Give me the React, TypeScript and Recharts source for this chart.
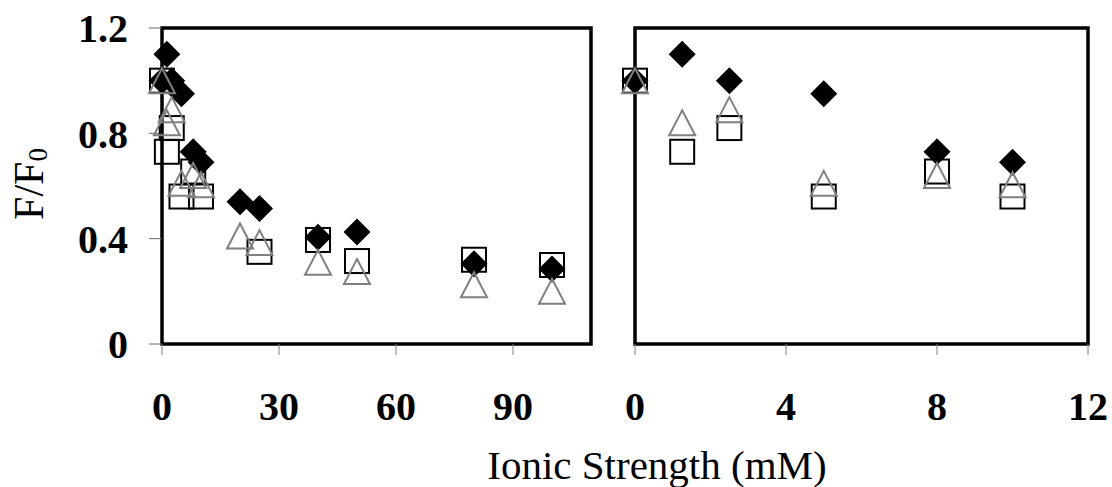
import React from 'react';
import { ScatterChart, Scatter, XAxis, YAxis, ReferenceArea } from 'recharts';

// ionic strength (mM)
const ionic = [0, 1.25, 2.5, 5, 8, 10, 20, 25, 40, 50, 80, 100];
// F/F0 for the three series (null = no point)
const diamonds = [1.0, 1.1, 1.0, 0.95, 0.73, 0.69, 0.54, 0.515, 0.405, 0.425, 0.305, 0.285];
const squares = [1.0, 0.73, 0.82, 0.56, 0.655, 0.56, null, 0.35, 0.395, 0.315, 0.32, 0.3];
const triangles = [1.0, 0.84, 0.89, 0.61, 0.64, 0.605, 0.41, 0.385, 0.31, 0.275, 0.225, 0.2];

const leftTicks = [0, 30, 60, 90];
const rightTicks = [0, 4, 8, 12];
const yTicks = [0, 0.4, 0.8, 1.2];

const toPoints = (vals: (number | null)[], maxX: number) =>
  ionic
    .map((x, i) => ({ x, y: vals[i] }))
    .filter((p) => p.y !== null && p.x <= maxX);

const Diamond = (props: any) => {
  const { cx, cy } = props;
  const r = 13.5;
  return <polygon points={`${cx},${cy - r} ${cx + r},${cy} ${cx},${cy + r} ${cx - r},${cy}`} fill="#000" />;
};

const Square = (props: any) => {
  const { cx, cy } = props;
  return <rect x={cx - 12} y={cy - 12} width={24} height={24} fill="none" stroke="#000" strokeWidth={2} />;
};

const Triangle = (props: any) => {
  const { cx, cy } = props;
  return (
    <polygon
      points={`${cx},${cy - 12.5} ${cx + 13},${cy + 12.5} ${cx - 13},${cy + 12.5}`}
      fill="none"
      stroke="#808080"
      strokeWidth={2}
    />
  );
};

const tickStyle = { fontFamily: 'Liberation Serif', fontSize: 40, fontWeight: 'bold', fill: '#000' };

const Panel = ({ maxX, ticks, showY, width, margin }: any) => (
  <ScatterChart width={width} height={487} margin={margin}>
    <XAxis
      type="number"
      dataKey="x"
      domain={[0, maxX]}
      ticks={ticks}
      axisLine={false}
      tickSize={11}
      tickMargin={37}
      tickLine={{ stroke: '#808080' }}
      tick={tickStyle}
      height={143}
      interval={0}
    />
    <YAxis
      type="number"
      dataKey="y"
      domain={[0, 1.2]}
      ticks={yTicks}
      hide={!showY}
      width={162}
      axisLine={false}
      tickSize={13}
      tickMargin={21}
      tickLine={{ stroke: '#666' }}
      tick={tickStyle}
      interval={0}
    />
    <ReferenceArea x1={0} x2={maxX} y1={0} y2={1.2} fill="none" stroke="#000" strokeWidth={3.5} ifOverflow="visible" />
    <Scatter data={toPoints(diamonds, maxX)} shape={Diamond} isAnimationActive={false} />
    <Scatter data={toPoints(squares, maxX)} shape={Square} isAnimationActive={false} />
    <Scatter data={toPoints(triangles, maxX)} shape={Triangle} isAnimationActive={false} />
  </ScatterChart>
);

export default function App() {
  return (
    <div style={{ position: 'absolute', left: 0, top: 0, width: 1112, height: 487, background: '#fff' }}>
      <div style={{ position: 'absolute', left: 0, top: 0 }}>
        <Panel maxX={110} ticks={leftTicks} showY width={600} margin={{ top: 28, right: 9, bottom: 0, left: 0 }} />
      </div>
      <div style={{ position: 'absolute', left: 600, top: 0 }}>
        <Panel maxX={12} ticks={rightTicks} showY={false} width={512} margin={{ top: 28, right: 24, bottom: 0, left: 35 }} />
      </div>
      <svg width={1112} height={487} style={{ position: 'absolute', left: 0, top: 0, pointerEvents: 'none' }}>
        <text
          x={657}
          y={479}
          textAnchor="middle"
          fontFamily="Liberation Serif"
          fontSize={41}
          fill="#000"
        >
          Ionic Strength (mM)
        </text>
        <text
          transform="translate(43,184) rotate(-90)"
          textAnchor="middle"
          fontFamily="Liberation Serif"
          fontSize={42}
          fill="#000"
        >
          F/F<tspan fontSize={27} dy={4}>0</tspan>
        </text>
      </svg>
    </div>
  );
}
